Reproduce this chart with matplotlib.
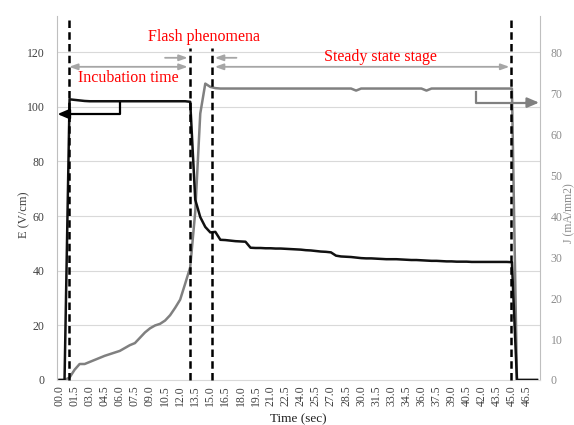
import matplotlib
matplotlib.use("Agg")
import matplotlib.pyplot as plt

# ---- data (0.5 s categories) ----
time_s = [0.0, 0.5, 1.0, 1.5, 2.0, 2.5, 3.0, 3.5, 4.0, 4.5, 5.0, 5.5, 6.0, 6.5, 7.0, 7.5,
          8.0, 8.5, 9.0, 9.5, 10.0, 10.5, 11.0, 11.5, 12.0, 12.5, 13.0, 13.5, 14.0, 14.5,
          15.0, 15.5, 16.0, 16.5, 17.0, 17.5, 18.0, 18.5, 19.0, 19.5, 20.0, 20.5, 21.0,
          21.5, 22.0, 22.5, 23.0, 23.5, 24.0, 24.5, 25.0, 25.5, 26.0, 26.5, 27.0, 27.5,
          28.0, 28.5, 29.0, 29.5, 30.0, 30.5, 31.0, 31.5, 32.0, 32.5, 33.0, 33.5, 34.0,
          34.5, 35.0, 35.5, 36.0, 36.5, 37.0, 37.5, 38.0, 38.5, 39.0, 39.5, 40.0, 40.5,
          41.0, 41.5, 42.0, 42.5, 43.0, 43.5, 44.0, 44.5, 45.0, 45.5, 46.0, 46.5, 47.0, 47.5]

E_field = [0, 0, 102.7, 102.5, 102.3, 102.1, 102.0, 102.0, 102.0, 102.0, 102.0, 102.0,
           102.0, 102.0, 102.0, 102.0, 102.0, 102.0, 102.0, 102.0, 102.0, 102.0, 102.0,
           102.0, 102.0, 102.0, 101.8, 66.0, 59.6, 56.0, 54.0, 54.2, 51.3, 51.2, 51.0,
           50.8, 50.7, 50.6, 48.4, 48.3, 48.3, 48.2, 48.2, 48.1, 48.1, 48.0, 47.9, 47.8,
           47.7, 47.5, 47.4, 47.2, 47.0, 46.9, 46.7, 45.5, 45.2, 45.1, 45.0, 44.8, 44.6,
           44.5, 44.5, 44.4, 44.3, 44.2, 44.2, 44.2, 44.1, 44.0, 43.9, 43.9, 43.8, 43.7,
           43.6, 43.6, 43.5, 43.4, 43.4, 43.3, 43.3, 43.3, 43.2, 43.2, 43.2, 43.2, 43.2,
           43.2, 43.2, 43.2, 43.1, 0, 0, 0, 0, 0]

J_density = [0, 0, 0.6, 2.5, 3.9, 3.9, 4.4, 4.9, 5.4, 5.9, 6.3, 6.7, 7.1, 7.8, 8.5, 9.0,
             10.3, 11.6, 12.6, 13.3, 13.7, 14.5, 15.8, 17.6, 19.6, 23.5, 27.5, 41.0, 65.0,
             72.3, 71.5, 71.2, 71.1, 71.1, 71.1, 71.1, 71.1, 71.1, 71.1, 71.1, 71.1, 71.1,
             71.1, 71.1, 71.1, 71.1, 71.1, 71.1, 71.1, 71.1, 71.1, 71.1, 71.1, 71.1, 71.1,
             71.1, 71.1, 71.1, 71.1, 70.6, 71.1, 71.1, 71.1, 71.1, 71.1, 71.1, 71.1, 71.1,
             71.1, 71.1, 71.1, 71.1, 71.1, 70.6, 71.1, 71.1, 71.1, 71.1, 71.1, 71.1, 71.1,
             71.1, 71.1, 71.1, 71.1, 71.1, 71.1, 71.1, 71.1, 71.1, 71.1, 0, 0, 0, 0, 0]

xtick_vals = [0.0, 1.5, 3.0, 4.5, 6.0, 7.5, 9.0, 10.5, 12.0, 13.5, 15.0, 16.5, 18.0, 19.5,
              21.0, 22.5, 24.0, 25.5, 27.0, 28.5, 30.0, 31.5, 33.0, 34.5, 36.0, 37.5, 39.0,
              40.5, 42.0, 43.5, 45.0, 46.5]
xtick_labels = ["%04.1f" % v for v in xtick_vals]
E_ticks = [0, 20, 40, 60, 80, 100, 120]
J_ticks = [0, 10, 20, 30, 40, 50, 60, 70, 80]
stage_lines = [0.9, 12.95, 15.2, 44.9]

serif = "Liberation Serif"
plt.rcParams['font.family'] = [serif, 'DejaVu Serif']

fig = plt.figure(figsize=(5.74, 4.25), dpi=100)
ax = fig.add_axes([0.0993, 0.1059, 0.8407, 0.8565])
ax2 = ax.twinx()
ax.set_zorder(ax2.get_zorder() + 1)
ax.patch.set_visible(False)

E_TOP = 133.2
ax.set_xlim(-0.25, 47.75)
ax.set_ylim(0, E_TOP)
ax2.set_ylim(0, E_TOP * 80 / 120)

# grid
for v in E_ticks[1:]:
    ax2.axhline(v * 80 / 120, color="#d9d9d9", lw=0.8, zorder=0)

ax2.plot(time_s, J_density, color="#808080", lw=1.8, zorder=3)
ax.plot(time_s, E_field, color="#111111", lw=1.8, zorder=3)

# stage dashed lines
for i, x in enumerate(stage_lines):
    top = E_TOP if i in (0, 3) else 121.5
    ax.plot([x, x], [0, top], color="black", lw=1.8, ls=(0, (3, 1.7)), zorder=4,
            clip_on=False)

# spines
for s in ["top"]:
    ax.spines[s].set_visible(False)
    ax2.spines[s].set_visible(False)
ax.spines["left"].set_color("#bfbfbf")
ax.spines["bottom"].set_color("#d9d9d9")
ax.spines["right"].set_visible(False)
ax2.spines["left"].set_visible(False)
ax2.spines["bottom"].set_visible(False)
ax2.spines["right"].set_color("#bfbfbf")

ax.set_yticks(E_ticks)
ax.set_yticklabels([str(v) for v in E_ticks])
ax2.set_yticks(J_ticks)
ax2.set_yticklabels([str(v) for v in J_ticks])
ax.set_xticks(xtick_vals)
ax.set_xticklabels(xtick_labels, rotation=90)
ax.tick_params(axis="y", length=0, pad=9, labelsize=8.5, labelcolor="#404040")
ax.tick_params(axis="x", length=0, pad=4, labelsize=8.5, labelcolor="#404040")
ax2.tick_params(axis="y", length=0, pad=8, labelsize=8.5, labelcolor="#8c8c8c")

ax.set_ylabel("E (V/cm)", fontsize=9, color="#404040")
ax.yaxis.set_label_coords(-0.056, 0.453)
ax2.set_ylabel("J (mA/mm2)", fontsize=8.5, color="#8c8c8c")
ax2.yaxis.set_label_coords(1.0495, 0.459)
ax.set_xlabel("Time (sec)", fontsize=9.5, color="#222222")
ax.xaxis.set_label_coords(0.5, -0.092)

# annotations
red = "#ff0000"
ax.text(14.4, 125.5, "Flash phenomena", color=red, fontsize=11.5, ha="center", va="center")
ax.text(6.85, 110.5, "Incubation time", color=red, fontsize=11.5, ha="center", va="center")
ax.text(31.9, 118.3, "Steady state stage", color=red, fontsize=11.5, ha="center", va="center")

gray_arrow = dict(arrowstyle="<|-|>,head_length=0.5,head_width=0.18", color="#a6a6a6",
                  lw=1.3, shrinkA=0, shrinkB=0)
ax.annotate("", xy=(0.95, 114.6), xytext=(12.75, 114.6), arrowprops=gray_arrow)
ax.annotate("", xy=(15.45, 114.6), xytext=(44.75, 114.6), arrowprops=gray_arrow)
one_arrow = dict(arrowstyle="-|>,head_length=0.5,head_width=0.18", color="#a6a6a6",
                 lw=1.3, shrinkA=0, shrinkB=0)
ax.annotate("", xy=(12.75, 117.9), xytext=(10.5, 117.9), arrowprops=one_arrow)
ax.annotate("", xy=(15.45, 117.9), xytext=(17.6, 117.9), arrowprops=one_arrow)

# axis pointer arrows
ax.plot([6.05, 6.05, 0.5], [101.2, 97.3, 97.3], color="black", lw=1.6, zorder=5)
ax.annotate("", xy=(-0.2, 97.3), xytext=(0.6, 97.3),
            arrowprops=dict(arrowstyle="-|>,head_length=0.7,head_width=0.3", color="black",
                            lw=1.6, shrinkA=0, shrinkB=0))
ax.plot([41.4, 41.4, 46.5], [105.5, 101.5, 101.5], color="#808080", lw=1.6, zorder=5,
        clip_on=False)
ax.annotate("", xy=(47.7, 101.5), xytext=(46.4, 101.5),
            arrowprops=dict(arrowstyle="-|>,head_length=0.7,head_width=0.3", color="#808080",
                            lw=1.6, shrinkA=0, shrinkB=0), annotation_clip=False)

fig.savefig("out.png", dpi=100)
